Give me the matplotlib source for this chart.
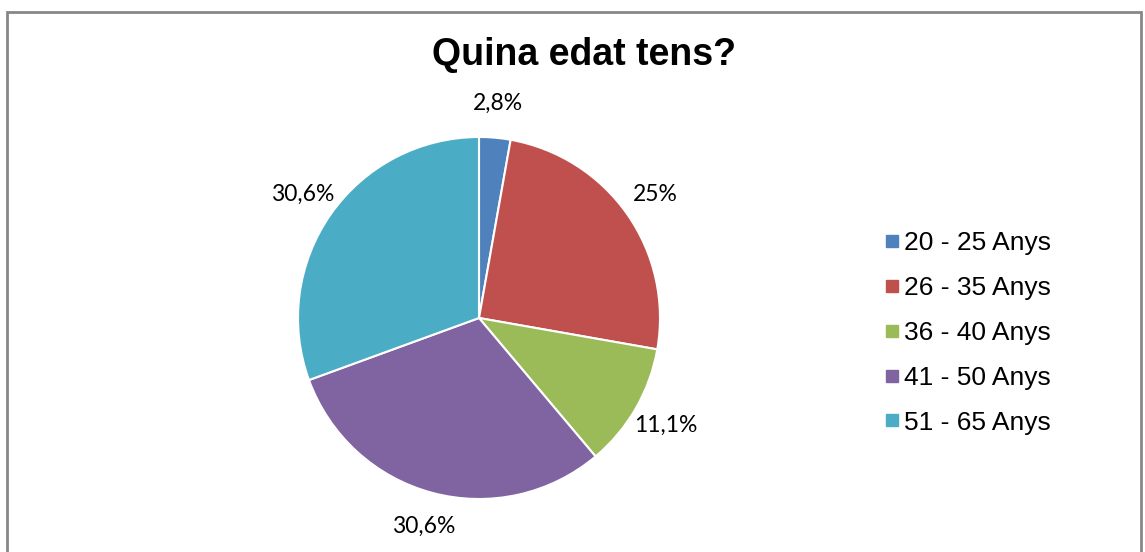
import matplotlib.pyplot as plt
from matplotlib.patches import Rectangle
from matplotlib.lines import Line2D

# data
categories = ['20 - 25 Anys', '26 - 35 Anys', '36 - 40 Anys', '41 - 50 Anys', '51 - 65 Anys']
values = [2.8, 25, 11.1, 30.6, 30.6]
pct_labels = ['2,8%', '25%', '11,1%', '30,6%', '30,6%']
colors = ['#4F81BD', '#C0504D', '#9BBB59', '#8064A2', '#4BACC6']

W, H = 1145, 552
fig = plt.figure(figsize=(W / 100, H / 100), dpi=100)

# outer frame like the excel chart area
fig.patches.append(Rectangle((7 / W, -0.05), (1141 - 7) / W, 1.05 - 12 / H,
                             transform=fig.transFigure, fill=False,
                             edgecolor='#878787', linewidth=2))

# pie axes, in pixel units so the radius is easy to set
cx, cy, half = 479, 318, 230
ax = fig.add_axes([(cx - half) / W, (H - cy - half) / H, 2 * half / W, 2 * half / H])

wedges, texts = ax.pie(values, colors=colors, radius=181, startangle=90, counterclock=False,
                       labels=pct_labels, labeldistance=1.19,
                       wedgeprops=dict(edgecolor='white', linewidth=1.5),
                       textprops=dict(fontsize=16.5, family='Lato', color='black'))
for t in texts:
    t.set_ha('center')
    t.set_va('center')
ax.set_xlim(-half, half)
ax.set_ylim(-half, half)
ax.set_aspect('equal')
ax.axis('off')

fig.text(584 / W, 1 - 55 / H, 'Quina edat tens?', ha='center', va='center',
         fontsize=27, fontweight='bold', family='Liberation Sans')

handles = [Line2D([], [], marker='s', linestyle='none', markersize=8,
                  markerfacecolor=c, markeredgecolor=c) for c in colors]
fig.legend(handles, categories, loc='upper left', bbox_to_anchor=(872 / W, 1 - 218 / H),
           frameon=False, handlelength=0.5, handletextpad=0.2, labelspacing=0.79,
           borderpad=0, prop=dict(family='Liberation Sans', size=19))

fig.savefig('out.png', dpi=100)
